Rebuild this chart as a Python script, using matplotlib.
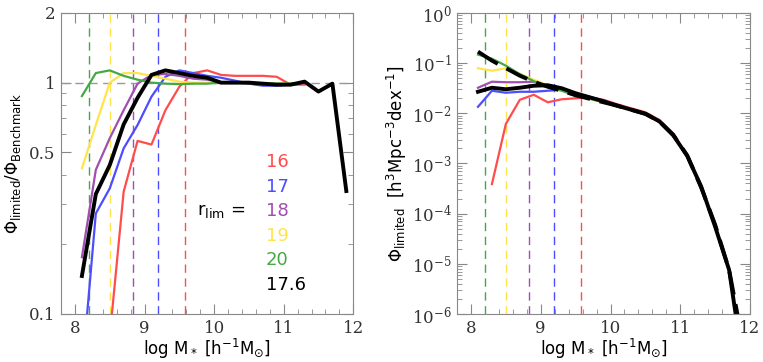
import matplotlib
matplotlib.use("Agg")
import matplotlib.pyplot as plt
import matplotlib.ticker as ticker
import numpy as np

nan = np.nan

# bin centres (log M*)
logm = [8.1, 8.3, 8.5, 8.7, 8.9, 9.1, 9.3, 9.5, 9.7, 9.9,
        10.1, 10.3, 10.5, 10.7, 10.9, 11.1, 11.3, 11.5, 11.7, 11.9]

rlim_labels = ['16', '17', '18', '19', '20', '17.6']
colors = ['#ff4d4d', '#4d4dff', '#a04fb0', '#ffe44d', '#44a844', 'black']
mass_limits = [9.58, 9.19, 8.83, 8.5, 8.2]

# left panel: Phi_limited / Phi_benchmark
ratio_16 = [nan, nan, 0.08, 0.338, 0.56, 0.54, 0.76, 0.96, 1.10, 1.13,
            1.08, 1.07, 1.07, 1.07, 1.06, 0.98, 0.98, nan, nan, nan]
ratio_17 = [0.055, 0.272, 0.349, 0.52, 0.656, 0.87, 1.06, 1.13, 1.10, 1.07,
            1.05, 1.02, 0.99, 0.97, 0.97, 0.98, 1.0, nan, nan, nan]
ratio_18 = [0.176, 0.42, 0.575, 0.76, 0.99, 1.08, 1.09, 1.07, 1.04, 1.03,
            1.0, 1.0, 0.99, 0.98, 0.98, 0.98, 1.0, nan, nan, nan]
ratio_19 = [0.426, 0.656, 1.0, 1.10, 1.10, 1.07, 1.04, 1.01, 1.0, 1.0,
            1.0, 1.0, 1.0, 0.99, 0.99, 0.99, 1.0, nan, nan, nan]
ratio_20 = [0.875, 1.10, 1.13, 1.07, 1.03, 1.0, 0.99, 0.985, 0.99, 0.99,
            1.0, 1.0, 1.0, 0.99, 0.99, 0.99, 1.0, nan, nan, nan]
ratio_176 = [0.146, 0.33, 0.44, 0.66, 0.86, 1.08, 1.13, 1.10, 1.07, 1.05,
             1.0, 1.0, 1.0, 0.99, 0.98, 0.98, 1.01, 0.915, 0.99, 0.34]

# right panel: log10 Phi_limited
logphi_16 = [nan, -3.41, -2.21, -1.73, -1.63, -1.78, -1.72, -1.70, -1.68, -1.73,
             -1.82, -1.90, -1.98, -2.13, -2.40, -2.85, -3.48, nan, nan, nan]
logphi_17 = [-1.87, -1.55, -1.59, -1.57, -1.57, -1.55, -1.53, -1.60, -1.67, -1.75,
             -1.83, -1.92, -2.01, -2.17, -2.44, -2.84, -3.48, nan, nan, nan]
logphi_18 = [-1.49, -1.37, -1.38, -1.38, -1.37, -1.44, -1.51, -1.62, -1.69, -1.77,
             -1.85, -1.93, -2.01, -2.17, -2.44, -2.85, -3.48, nan, nan, nan]
logphi_19 = [-1.10, -1.15, -1.10, -1.21, -1.33, -1.44, -1.53, -1.64, -1.71, -1.78,
             -1.85, -1.93, -2.01, -2.16, -2.43, -2.84, -3.48, nan, nan, nan]
logphi_20 = [-0.83, -0.91, -1.05, -1.22, -1.36, -1.47, -1.55, -1.65, -1.71, -1.78,
             -1.85, -1.93, -2.01, -2.17, -2.44, -2.85, -3.48, nan, nan, nan]
logphi_176 = [-1.57, -1.49, -1.52, -1.49, -1.45, -1.44, -1.50, -1.60, -1.68, -1.76,
              -1.85, -1.93, -2.01, -2.16, -2.44, -2.85, -3.46, -4.26, -5.12, -7.0]
logphi_bench = [-0.77, -0.95, -1.10, -1.25, -1.37, -1.47, -1.55, -1.64, -1.71, -1.78,
                -1.85, -1.93, -2.01, -2.16, -2.43, -2.84, -3.48, -4.22, -5.12, -6.6]

ratios = [ratio_16, ratio_17, ratio_18, ratio_19, ratio_20, ratio_176]
logphis = [logphi_16, logphi_17, logphi_18, logphi_19, logphi_20, logphi_176]

plt.rcParams['font.family'] = 'DejaVu Serif'
plt.rcParams['mathtext.fontset'] = 'dejavusans'
frame = '#888888'

fig = plt.figure(figsize=(7.63, 3.62), dpi=100)
ax1 = fig.add_axes([0.080, 0.1326, 0.383, 0.8315])
ax2 = fig.add_axes([0.599, 0.1326, 0.384, 0.8315])

x = np.array(logm)

# ---- left panel
for xl, c in zip(mass_limits, colors[:5]):
    ax1.axvline(xl, color=c, lw=1.0, ls=(0, (6, 4)))
ax1.axhline(1.0, color='#999999', lw=1.0, ls=(0, (6, 4)))
for r, c in zip(ratios, colors):
    lw = 2.8 if c == 'black' else 1.6
    ax1.plot(x, r, color=c, lw=lw)
ax1.set_yscale('log')
ax1.set_xlim(7.8, 12)
ax1.set_ylim(0.1, 2)
ax1.yaxis.set_major_locator(ticker.FixedLocator([0.1, 0.5, 1, 2]))
ax1.yaxis.set_major_formatter(ticker.FixedFormatter(['0.1', '0.5', '1', '2']))
ax1.yaxis.set_minor_locator(ticker.FixedLocator([0.2, 0.3, 0.4, 0.6, 0.7, 0.8, 0.9]))
ax1.yaxis.set_minor_formatter(ticker.NullFormatter())
ax1.set_ylabel(r'$\Phi_{\rm limited}/\Phi_{\rm Benchmark}$', fontsize=12,
               family='DejaVu Sans')

ax1.text(0.63, 0.342, r'$\mathrm{r_{lim}}$ =', transform=ax1.transAxes,
         ha='right', va='center', fontsize=13, family='DejaVu Sans')
ypos = [0.505, 0.422, 0.342, 0.259, 0.179, 0.096]
for lab, c, yp in zip(rlim_labels, colors, ypos):
    ax1.text(0.70, yp, lab, transform=ax1.transAxes, color=c,
             ha='left', va='center', fontsize=13, family='DejaVu Sans')

# ---- right panel
for xl, c in zip(mass_limits, colors[:5]):
    ax2.axvline(xl, color=c, lw=1.0, ls=(0, (6, 4)))
for lp, c in zip(logphis[:5], colors[:5]):
    ax2.plot(x, 10 ** np.array(lp), color=c, lw=1.6)
ax2.plot(x, 10 ** np.array(logphi_176), color='black', lw=2.8)
ax2.plot(x, 10 ** np.array(logphi_bench), color='black', lw=2.8, ls=(0, (6, 2.5)))
ax2.set_yscale('log')
ax2.set_xlim(7.8, 12)
ax2.set_ylim(1e-6, 1)
ax2.yaxis.set_major_locator(ticker.LogLocator(base=10, numticks=10))
ax2.yaxis.set_minor_locator(ticker.LogLocator(base=10, subs=np.arange(2, 10), numticks=10))
ax2.yaxis.set_minor_formatter(ticker.NullFormatter())
ax2.set_ylabel(r'$\Phi_{\rm limited}$  [h$^3$Mpc$^{-3}$dex$^{-1}$]', fontsize=12,
               family='DejaVu Sans', labelpad=2)

for ax in (ax1, ax2):
    ax.xaxis.set_major_locator(ticker.MultipleLocator(1))
    ax.xaxis.set_minor_locator(ticker.MultipleLocator(0.2))
    ax.set_xlabel(r'log M$_*$ [h$^{-1}$M$_{\odot}$]', fontsize=12,
                  family='DejaVu Sans', labelpad=0)
    ax.tick_params(which='both', direction='in', top=True, right=True,
                   color=frame, labelsize=12, labelcolor='#333333')
    ax.tick_params(which='major', length=7, pad=4)
    ax.tick_params(which='minor', length=3.5)
    for s in ax.spines.values():
        s.set_color(frame)

fig.savefig('out.png', dpi=100)
